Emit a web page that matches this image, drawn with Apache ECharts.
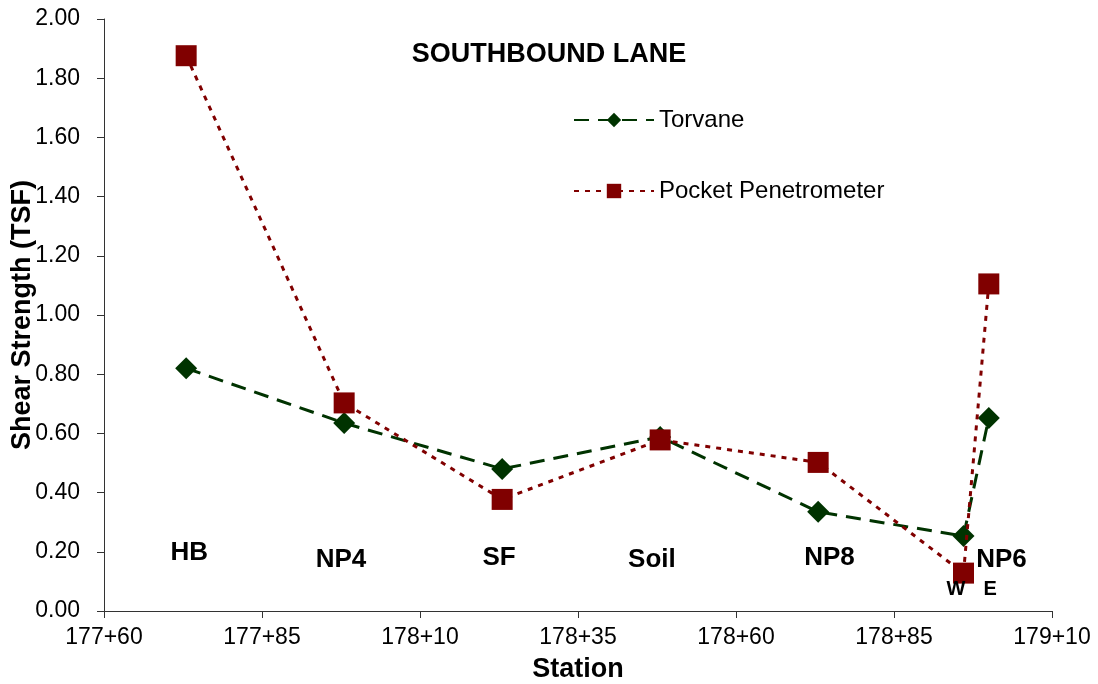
<!DOCTYPE html>
<html>
<head>
<meta charset="utf-8">
<script src="https://cdn.jsdelivr.net/npm/echarts@6/dist/echarts.min.js"></script>
<style>
  html, body { margin: 0; padding: 0; background: #fff; }
  #chart { width: 1098px; height: 684px; }
</style>
</head>
<body>
<div id="chart"></div>
<script>
// stations in feet (177+60 = 17760)
var stations = [17773, 17798, 17823, 17848, 17873, 17896, 17900]
var torvane = [0.82, 0.635, 0.48, 0.588, 0.335, 0.253, 0.652]
var pocketPen = [1.876, 0.703, 0.377, 0.578, 0.502, 0.128, 1.105]

// site annotations, placed in data coordinates
var siteNames = ['HB', 'NP4', 'SF', 'Soil', 'NP8', 'NP6']
var siteX = [17773.5, 17797.5, 17822.5, 17846.7, 17874.8, 17902]
var siteY = [0.195, 0.172, 0.178, 0.172, 0.178, 0.172]
var sideNames = ['W', 'E']
var sideX = [17894.8, 17900.2]
var sideY = [0.074, 0.074]

function pair (xs, ys) {
  return xs.map(function (x, i) { return [x, ys[i]] })
}
function stationLabel (v) {
  var ft = Math.round(v)
  var rest = ft % 100
  return Math.floor(ft / 100) + '+' + (rest < 10 ? '0' + rest : rest)
}

var font = 'Liberation Sans, Arial, sans-serif'
var chart = echarts.init(document.getElementById('chart'))
chart.setOption({
  animation: false,
  textStyle: { fontFamily: font },
  title: {
    text: 'SOUTHBOUND LANE',
    left: 544,
    top: 36,
    textAlign: 'center',
    textStyle: { fontSize: 27, fontWeight: 'bold', color: '#000', fontFamily: font }
  },
  legend: {
    orient: 'vertical',
    left: 568,
    top: 103,
    itemWidth: 80,
    itemHeight: 18,
    itemGap: 47,
    data: ['Torvane', 'Pocket Penetrometer'],
    textStyle: { fontSize: 24, color: '#000', fontFamily: font, padding: [0, 0, 0, 0] }
  },
  grid: { left: 104, right: 46, top: 19, bottom: 73, containLabel: false, outerBoundsMode: 'none' },
  xAxis: {
    type: 'value',
    min: 17760,
    max: 17910,
    interval: 25,
    name: 'Station',
    nameLocation: 'middle',
    nameGap: 45,
    nameMoveOverlap: false,
    nameTextStyle: { fontSize: 27, fontWeight: 'bold', color: '#000', fontFamily: font },
    splitLine: { show: false },
    axisLine: { lineStyle: { color: '#333', width: 1 } },
    axisTick: { inside: false, length: 7, lineStyle: { color: '#333' } },
    axisLabel: { formatter: stationLabel, fontSize: 23, color: '#000', margin: 15, fontFamily: font }
  },
  yAxis: {
    type: 'value',
    min: 0,
    max: 2,
    interval: 0.2,
    name: 'Shear Strength (TSF)',
    nameLocation: 'middle',
    nameGap: 68,
    nameMoveOverlap: false,
    nameTextStyle: { fontSize: 27, fontWeight: 'bold', color: '#000', fontFamily: font },
    splitLine: { show: false },
    axisLine: { show: true, lineStyle: { color: '#333', width: 1 } },
    axisTick: { show: true, inside: false, length: 7, lineStyle: { color: '#333' } },
    axisLabel: {
      formatter: function (v) { return v.toFixed(2) },
      fontSize: 23, color: '#000', margin: 24, fontFamily: font
    }
  },
  series: [
    {
      name: 'Torvane',
      type: 'line',
      data: pair(stations, torvane),
      symbol: 'diamond',
      symbolSize: 22,
      itemStyle: { color: '#003300' },
      lineStyle: { color: '#003300', width: 3, type: [15, 9] },
      z: 3
    },
    {
      name: 'Pocket Penetrometer',
      type: 'line',
      data: pair(stations, pocketPen),
      symbol: 'rect',
      symbolSize: 21,
      itemStyle: { color: '#800000' },
      lineStyle: { color: '#800000', width: 3, type: [5, 6] },
      z: 4
    },
    {
      name: 'sites',
      type: 'scatter',
      data: pair(siteX, siteY),
      symbolSize: 0,
      silent: true,
      itemStyle: { opacity: 1 },
      label: {
        show: true,
        position: [0, 0],
        align: 'center',
        verticalAlign: 'middle',
        formatter: function (p) { return siteNames[p.dataIndex] },
        fontSize: 26, fontWeight: 'bold', color: '#000', fontFamily: font
      },
      z: 5
    },
    {
      name: 'sides',
      type: 'scatter',
      data: pair(sideX, sideY),
      symbolSize: 0,
      silent: true,
      itemStyle: { opacity: 1 },
      label: {
        show: true,
        position: [0, 0],
        align: 'center',
        verticalAlign: 'middle',
        formatter: function (p) { return sideNames[p.dataIndex] },
        fontSize: 20, fontWeight: 'bold', color: '#000', fontFamily: font
      },
      z: 5
    }
  ]
})
</script>
</body>
</html>
